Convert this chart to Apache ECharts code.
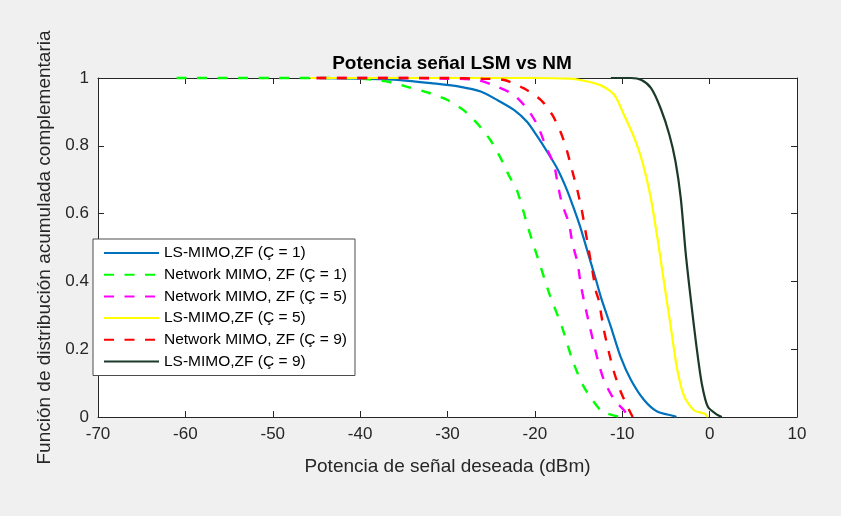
<!DOCTYPE html>
<html>
<head>
<meta charset="utf-8">
<script src="https://cdn.jsdelivr.net/npm/echarts@6/dist/echarts.min.js"></script>
<style>html,body{margin:0;padding:0;background:#f0f0f0;}#c{width:841px;height:516px;}</style>
</head>
<body>
<div id="c"></div>
<script>
const xTicks = [-70, -60, -50, -40, -30, -20, -10, 0, 10];
const yTicks = [0, 0.2, 0.4, 0.6, 0.8, 1];

const seriesNames = [
  'LS-MIMO,ZF (Ç = 1)',
  'Network MIMO, ZF (Ç = 1)',
  'Network MIMO, ZF (Ç = 5)',
  'LS-MIMO,ZF (Ç = 5)',
  'Network MIMO, ZF (Ç = 9)',
  'LS-MIMO,ZF (Ç = 9)'
];

const lsm1X = [-45.4, -40, -35.4, -31.6, -28.5, -26.2, -24.3, -22.4, -20.9, -19.7, -18.6, -17.4, -16.3, -15.4, -14.8, -13.8, -13.0, -12.4, -11.3, -10.2, -9.0, -7.5, -6.0, -4.1, -3.8];
const lsm1Y = [1, 0.998, 0.994, 0.984, 0.974, 0.96, 0.935, 0.906, 0.871, 0.827, 0.783, 0.731, 0.668, 0.605, 0.56, 0.473, 0.404, 0.35, 0.266, 0.178, 0.109, 0.05, 0.016, 0.003, 0];

const nm1X = [-61, -45, -40, -37, -34.6, -32.0, -30.0, -28.2, -26.6, -25.1, -23.9, -23.0, -22.0, -20.7, -19.3, -18.3, -16.9, -15.7, -14.4, -12.5, -11.7, -10.5, -9.5];
const nm1Y = [1, 1, 0.998, 0.99, 0.974, 0.955, 0.935, 0.906, 0.866, 0.817, 0.763, 0.714, 0.665, 0.552, 0.44, 0.36, 0.266, 0.168, 0.089, 0.02, 0.01, 0.002, 0];

const nm5X = [-45, -35, -30, -26.6, -24.3, -22.4, -20.9, -19.7, -18.8, -17.8, -17.4, -16.9, -16.1, -15.7, -15.1, -14.8, -14.4, -13.8, -12.8, -12.1, -10.9, -9.8, -9.3];
const nm5Y = [1, 1, 0.998, 0.994, 0.974, 0.95, 0.91, 0.861, 0.802, 0.743, 0.689, 0.63, 0.571, 0.512, 0.453, 0.399, 0.345, 0.276, 0.168, 0.109, 0.05, 0.02, 0];

const lsm5X = [-45.7, -20, -16, -14.8, -12.5, -10.9, -9.8, -8.6, -7.7, -6.8, -6.0, -5.2, -4.4, -3.7, -2.9, -1.8, -0.6, -0.2];
const lsm5Y = [1, 1, 0.998, 0.994, 0.979, 0.95, 0.891, 0.822, 0.753, 0.655, 0.532, 0.394, 0.257, 0.139, 0.06, 0.02, 0.01, 0];

const nm9X = [-45, -30, -26, -23.5, -21.3, -19.3, -18.0, -17.0, -16.3, -15.7, -15.1, -14.6, -14.2, -13.8, -13.4, -13.0, -12.7, -12.1, -11.5, -10.9, -10.1, -9.2, -8.8];
const nm9Y = [1, 1, 0.998, 0.994, 0.97, 0.935, 0.891, 0.837, 0.783, 0.724, 0.665, 0.606, 0.547, 0.488, 0.429, 0.37, 0.345, 0.257, 0.188, 0.129, 0.07, 0.02, 0];

const lsm9X = [-11.3, -9, -7.8, -6.7, -5.6, -4.6, -3.9, -3.3, -2.7, -2.1, -1.5, -0.9, -0.2, 0.9, 1.4];
const lsm9Y = [1, 1, 0.994, 0.97, 0.91, 0.832, 0.753, 0.645, 0.473, 0.335, 0.207, 0.099, 0.03, 0.006, 0];

const FONT = '"Liberation Sans", Arial, Helvetica, sans-serif';
const AX = '#262626';

function pairs(xs, ys) { return xs.map((x, i) => [x, ys[i]]); }

function mk(name, xs, ys, color, dashed) {
  return {
    name: name,
    type: 'line',
    data: pairs(xs, ys),
    showSymbol: false,
    symbol: 'none',
    smooth: 0.25,
    clip: false,
    lineStyle: { color: color, width: dashed ? 2.4 : 2.2, type: dashed ? [10, 10.5] : 'solid' },
    itemStyle: { color: color },
    emphasis: { disabled: true }
  };
}

const chart = echarts.init(document.getElementById('c'), null, { renderer: 'canvas' });
const axisCommon = {
  type: 'value',
  axisLine: { show: true, onZero: false, lineStyle: { color: AX, width: 1 } },
  axisTick: { show: true, inside: true, length: 6, lineStyle: { color: AX } },
  splitLine: { show: false }
};
chart.setOption({
  backgroundColor: '#f0f0f0',
  animation: false,
  textStyle: { fontFamily: FONT },
  title: {
    text: 'Potencia señal LSM vs NM',
    left: 447,
    textAlign: 'center',
    top: 49,
    textStyle: { fontFamily: FONT, fontSize: 19, fontWeight: 'bold', color: '#000' }
  },
  legend: {
    orient: 'vertical',
    left: 93,
    top: 239,
    data: seriesNames,
    itemWidth: 55,
    itemHeight: 16,
    itemGap: 5.7,
    padding: [6, 8, 6, 10],
    backgroundColor: '#ffffff',
    borderColor: '#4d4d4d',
    borderWidth: 1,
    borderRadius: 0,
    selectedMode: false,
    itemStyle: { opacity: 0 },
    textStyle: { fontFamily: FONT, fontSize: 15.5, color: '#000', lineHeight: 16 }
  },
  grid: {
    left: 98, right: 44, top: 78, bottom: 99,
    show: true, backgroundColor: '#ffffff', borderWidth: 0
  },
  xAxis: [
    Object.assign({}, axisCommon, {
      position: 'bottom',
      min: xTicks[0], max: xTicks[xTicks.length - 1], interval: 10,
      axisLabel: { color: AX, fontSize: 17, fontFamily: FONT, margin: 9 },
      name: 'Potencia de señal deseada (dBm)',
      nameLocation: 'middle',
      nameGap: 40,
      nameTextStyle: { color: AX, fontSize: 19, fontFamily: FONT }
    }),
    Object.assign({}, axisCommon, {
      position: 'top',
      min: xTicks[0], max: xTicks[xTicks.length - 1], interval: 10,
      axisLabel: { show: false }
    })
  ],
  yAxis: [
    Object.assign({}, axisCommon, {
      position: 'left',
      min: yTicks[0], max: yTicks[yTicks.length - 1], interval: 0.2,
      axisLabel: { color: AX, fontSize: 17, fontFamily: FONT, margin: 9 },
      name: 'Función de distribución acumulada complementaria',
      nameLocation: 'middle',
      nameGap: 38,
      nameTextStyle: { color: AX, fontSize: 19, fontFamily: FONT }
    }),
    Object.assign({}, axisCommon, {
      position: 'right',
      min: yTicks[0], max: yTicks[yTicks.length - 1], interval: 0.2,
      axisLabel: { show: false }
    })
  ],
  series: [
    mk(seriesNames[0], lsm1X, lsm1Y, '#0072BD', false),
    mk(seriesNames[1], nm1X, nm1Y, '#00FF00', true),
    mk(seriesNames[2], nm5X, nm5Y, '#FF00FF', true),
    mk(seriesNames[3], lsm5X, lsm5Y, '#FFFF00', false),
    mk(seriesNames[4], nm9X, nm9Y, '#FF0000', true),
    mk(seriesNames[5], lsm9X, lsm9Y, '#1B3A2A', false)
  ]
});
</script>
</body>
</html>
